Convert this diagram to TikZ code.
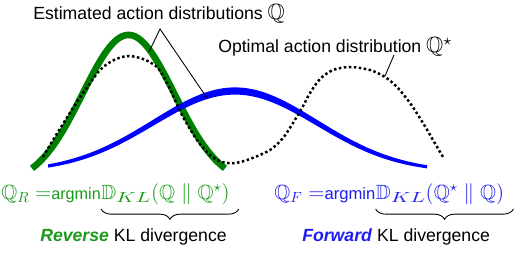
\documentclass[tikz,border=0pt]{standalone}
\usepackage{amssymb}
\usepackage{fontspec}
\setmainfont{Liberation Sans}
\usetikzlibrary{positioning,decorations.pathreplacing}
\definecolor{curvegreen}{HTML}{008000}
\definecolor{textgreen}{HTML}{1A9A1A}
\definecolor{curveblue}{HTML}{0000FF}
\definecolor{textblue}{HTML}{1E1EF0}
\newcommand{\bigmath}[1]{{\fontsize{15}{17}\selectfont$#1$}}
\newcommand{\klsub}{_{\scalebox{1.45}[1]{$\scriptstyle KL$}}}

\begin{document}
\begin{tikzpicture}[
  x=0.68pt,y=-0.68pt,
  font=\fontsize{12}{14}\selectfont,
  txt/.style={inner sep=0pt,anchor=base west},
  formula/.style={inner sep=0pt,font=\fontsize{14}{16}\selectfont},
  pointer/.style={draw=black,line width=0.6pt},
  kbrace/.style={decorate,decoration={brace,mirror,amplitude=7pt},draw=black,line width=0.6pt},
  estimate/.style={draw=curvegreen,line width=4.5pt},
  optimal/.style={draw=black,line width=1.7pt,dash pattern=on 1.7pt off 1.7pt}
]
\useasboundingbox (0,0) rectangle (528,266);

% distributions
\draw[estimate] plot[domain=32:225,samples=80] (\x,{168-150*(exp(-0.5*((\x-128.5)/46)^2)-0.113)});
\fill[curveblue] plot[domain=48:427,samples=90] (\x,{172-81*exp(-0.5*((\x-235)/82)^2)-(0.8+2.8*exp(-0.5*((\x-235)/120)^2))})
  -- plot[domain=427:48,samples=90] (\x,{172-81*exp(-0.5*((\x-235)/82)^2)+(0.8+2.8*exp(-0.5*((\x-235)/120)^2))}) -- cycle;
\draw[optimal] plot[smooth] coordinates {(43,157) (53,140) (63,124) (73,108) (83,93) (100,70) (114,60) (128,56) (143,59) (157,67) (167,83) (175,100) (183,117) (197,140) (210,155) (222,162) (235,163) (250,159) (270,150) (283,138) (293,123) (302,108) (310,93) (320,79) (333,70) (350,67) (370,70) (385,77) (397,87) (410,103) (423,123) (433,140) (443,157)};

% labels and pointers
\node[txt] (estLabel) at (33,20) {Estimated action distributions \bigmath{\mathbb{Q}}};
\node[txt] (optLabel) at (218,53) {Optimal action distribution \bigmath{\mathbb{Q}^\star}};
\coordinate (estApex) at (160,29);
\coordinate (estOnGreen) at (149,52);
\coordinate (estOnBlue) at (207,98);
\coordinate (optHead) at (394,55);
\coordinate (optOnDots) at (385,76);
\draw[pointer] (estOnGreen) -- (estApex) -- (estOnBlue);
\draw[pointer] (optHead) -- (optOnDots);

% reverse KL
\node[txt,text=textgreen] (revLhs) at (1,199) {\fontsize{14}{16}\selectfont$\mathbb{Q}_R =$\fontsize{11}{14}\selectfont argmin};
\node[formula,text=textgreen,base right=0pt of revLhs] (revKL) {$\mathbb{D}\klsub(\mathbb{Q} \parallel \mathbb{Q}^\star)$};
\draw[kbrace] ([yshift=-3pt]revKL.south west) -- ([xshift=6pt,yshift=-3pt]revKL.south east);
\node[txt] (revName) at (40,241) {\textcolor{textgreen}{\textbf{\textit{Reverse}}} KL divergence};

% forward KL
\node[txt,text=textblue] (fwdLhs) at (274,199) {\fontsize{14}{16}\selectfont$\mathbb{Q}_F =$\fontsize{11.3}{14}\selectfont argmin};
\node[formula,text=textblue,base right=0pt of fwdLhs] (fwdKL) {$\mathbb{D}\klsub(\mathbb{Q}^\star \parallel \mathbb{Q})$};
\draw[kbrace] ([yshift=-3pt]fwdKL.south west) -- ([xshift=6pt,yshift=-3pt]fwdKL.south east);
\node[txt] (fwdName) at (302,241) {\textcolor{textblue}{\textbf{\textit{Forward}}} KL divergence};
\end{tikzpicture}
\end{document}
